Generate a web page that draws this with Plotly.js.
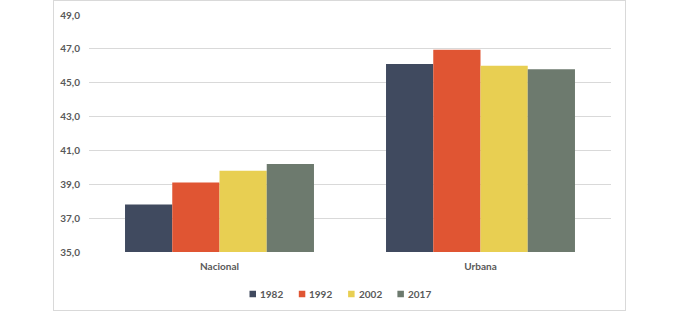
<!DOCTYPE html>
<html>
<head>
<meta charset="utf-8">
<script src="https://cdn.plot.ly/plotly-3.0.1.min.js"></script>
<style>
  html, body { margin: 0; padding: 0; background: #fff; }
  #wrap { position: relative; width: 679px; height: 311px; }
  #chart { position: absolute; left: 0; top: 0; width: 679px; height: 311px; }
  #frame { position: absolute; left: 53px; top: 0px; width: 573px; height: 311px;
           box-sizing: border-box; border: 1px solid #D9D9D9; pointer-events: none; }
</style>
</head>
<body>
<div id="wrap">
  <div id="chart"></div>
  <div id="frame"></div>
</div>
<script>
const categories = ["Nacional", "Urbana"];
const seriesNames = ["1982", "1992", "2002", "2017"];
const values1982 = [37.8, 46.1];
const values1992 = [39.1, 46.95];
const values2002 = [39.8, 46.0];
const values2017 = [40.2, 45.8];
const yTicks = [35, 37, 39, 41, 43, 45, 47, 49];
const yTickLabels = ["35,0", "37,0", "39,0", "41,0", "43,0", "45,0", "47,0", "49,0"];

const colors = ["#404A5F", "#E05533", "#E8CF52", "#6D7A6E"];
const allValues = [values1982, values1992, values2002, values2017];

const W = 679, H = 311;
const M = { l: 89, r: 68, t: 15, b: 59 };
const PW = W - M.l - M.r, PH = H - M.t - M.b;
const font = { family: "Lato, 'Open Sans', sans-serif", size: 10, color: "#595959", weight: "bold" };

const data = seriesNames.map((name, i) => ({
  type: "bar",
  name: name,
  x: categories,
  y: allValues[i],
  marker: { color: colors[i], line: { width: 0 } },
  hoverinfo: "skip"
}));

// custom legend (square + label), positioned in paper coordinates
const px2x = px => (px - M.l) / PW;
const px2y = py => (M.t + PH - py) / PH;
const legStart = 249.5, legStep = 49.3, sq = 6.5, legY = 294;
const shapes = [], annotations = [];
seriesNames.forEach((name, i) => {
  const x0 = legStart + i * legStep;
  shapes.push({
    type: "rect", xref: "paper", yref: "paper",
    x0: px2x(x0), x1: px2x(x0 + sq),
    y0: px2y(legY + sq / 2), y1: px2y(legY - sq / 2),
    fillcolor: colors[i], line: { width: 0 }
  });
  annotations.push({
    xref: "paper", yref: "paper",
    x: px2x(x0 + sq + 2), y: px2y(legY),
    xanchor: "left", yanchor: "middle",
    text: name, showarrow: false, font: font
  });
});

const layout = {
  width: W,
  height: H,
  margin: M,
  paper_bgcolor: "#fff",
  plot_bgcolor: "#fff",
  font: font,
  barmode: "group",
  bargap: 0.276,
  bargroupgap: 0,
  showlegend: false,
  shapes: shapes,
  annotations: annotations,
  xaxis: {
    type: "category",
    showgrid: false,
    zeroline: false,
    showline: false,
    ticks: "",
    ticklabelstandoff: 7,
    tickfont: font,
    automargin: false,
    fixedrange: true
  },
  yaxis: {
    range: [35, 49],
    tickvals: yTicks,
    ticktext: yTickLabels,
    showgrid: true,
    gridcolor: "#D9D9D9",
    gridwidth: 1,
    zeroline: false,
    showline: false,
    ticks: "",
    ticklabelstandoff: 8,
    tickfont: font,
    automargin: false,
    fixedrange: true
  }
};

Plotly.newPlot("chart", data, layout, { staticPlot: true, displayModeBar: false });
</script>
</body>
</html>
